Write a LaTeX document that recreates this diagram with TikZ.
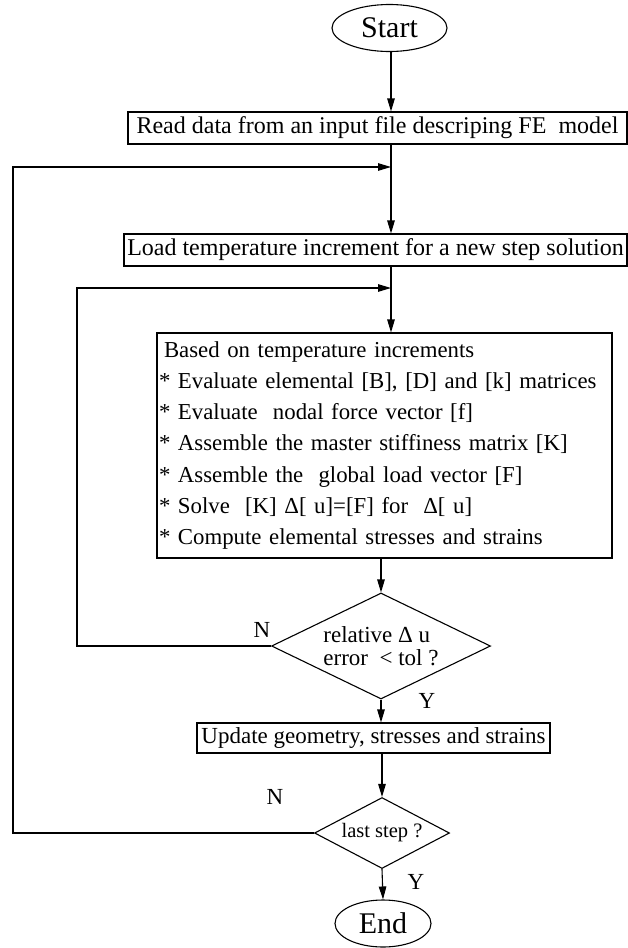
\documentclass[tikz,border=0pt]{standalone}
\usepackage{fontspec}
\setmainfont{Liberation Serif}
\usetikzlibrary{arrows.meta,shapes.geometric}

\begin{document}
\begin{tikzpicture}[x=1pt, y=-1pt, line width=1.1pt,
  >={Triangle[length=13pt,width=7.5pt]},
  box/.style={draw, rectangle, inner sep=2pt, font=\fontsize{24}{31}\selectfont},
  term/.style={draw, ellipse, inner sep=0pt, font=\fontsize{30}{32}\selectfont},
  test/.style={draw, diamond, aspect=2, inner sep=0pt, align=left},
  lbl/.style={inner sep=0pt, font=\fontsize{23}{25}\selectfont}]
  \useasboundingbox (0,0) rectangle (628,948);
  % main chain
  \node[term, minimum width=115pt, minimum height=47pt] (start) at (389.5,28) {Start};
  \node[box, minimum width=499pt, minimum height=32pt] (read) at (377.5,128) {Read data from an input file descriping FE\ \ model};
  \node[box, minimum width=503pt, minimum height=32pt] (load) at (375.5,250) {Load temperature increment for a new step solution};
  \node[box, minimum width=455pt, minimum height=225pt, text width=451pt, align=left,
    font=\fontsize{22.8}{31.3}\selectfont] (solve) at (384.5,445.5)
    {\hspace*{5pt}Based on temperature increments\\
     {*} Evaluate elemental [B], [D] and [k] matrices\\
     {*} Evaluate\ \ nodal force vector [f]\\
     {*} Assemble the master stiffiness matrix [K]\\
     {*} Assemble the\ \ global load vector [F]\\
     {*} Solve\ \ [K] Δ[ u]=[F] for\ \ Δ[ u]\\
     {*} Compute elemental stresses and strains};
  \node[test, minimum width=219pt, minimum height=106pt, font=\fontsize{23}{23.5}\selectfont] (tol) at (381,646) {relative Δ u\\error\ \ < tol ?};
  \node[box, minimum width=353pt, minimum height=30pt, font=\fontsize{23}{25}\selectfont] (upd) at (373.5,738) {Update geometry, stresses and strains};
  \node[test, aspect=1.9, minimum width=135pt, minimum height=71pt, font=\fontsize{20.5}{22}\selectfont] (last) at (382,833) {last step ?};
  \node[term, minimum width=96pt, minimum height=47pt] (end) at (383,923.5) {End};
  % axis and loop corners
  \coordinate (ax) at (391,0);
  \coordinate (j1) at (391,167); \coordinate (c1) at (13,167);
  \coordinate (j2) at (391,288); \coordinate (c2) at (77,288);
  \draw[->] (start.south -| ax) -- (read.north -| ax);
  \draw[->] (read.south -| ax) -- (load.north -| ax);
  \draw[->] (load.south -| ax) -- (solve.north -| ax);
  \draw[->] (solve.south -| tol.north) -- (tol.north);
  \draw[->] (tol.south) -- (upd.north -| tol.south);
  \draw[->] (upd.south -| last.north) -- (last.north);
  \draw[->] (last.south) -- (end.north);
  % loops back
  \draw[->] (last.west) -| (c1) -- (j1);
  \draw[->] (tol.west) -| (c2) -- (j2);
  % labels
  \node[lbl] (n1) at (262,630) {N};
  \node[lbl] (y1) at (427,701) {Y};
  \node[lbl] (n2) at (275,797) {N};
  \node[lbl] (y2) at (416,882) {Y};
\end{tikzpicture}
\end{document}
